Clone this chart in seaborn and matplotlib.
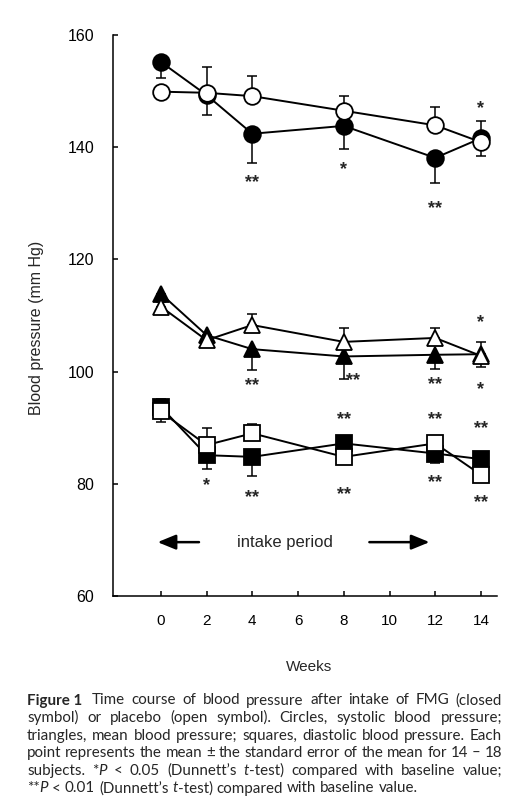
import matplotlib
matplotlib.use("Agg")
import matplotlib.pyplot as plt
import seaborn as sns
import pandas as pd
import numpy as np

# ---------------- data ----------------
weeks = [0, 2, 4, 8, 12, 14]
week_ticks = [0, 2, 4, 6, 8, 10, 12, 14]
bp_ticks = [60, 80, 100, 120, 140, 160]

# systolic (circles)
sys_fmg = [155.2, 149.3, 142.4, 143.8, 138.1, 141.6]
sys_fmg_se = [2.9, 3.6, 5.3, 4.2, 4.4, 3.2]
sys_plc = [149.9, 149.7, 149.1, 146.5, 143.9, 140.9]
sys_plc_se = [0.8, 4.6, 3.6, 2.7, 3.3, 3.8]

# mean (triangles)
mean_fmg = [113.9, 106.5, 104.0, 102.7, 103.0, 103.1]
mean_fmg_se = [0.8, 0.8, 3.7, 4.0, 2.5, 2.2]
mean_plc = [111.6, 105.6, 108.3, 105.3, 106.0, 102.8]
mean_plc_se = [0.8, 0.8, 2.0, 2.4, 1.8, 2.5]

# diastolic (squares)
dia_fmg = [93.7, 85.1, 84.8, 87.2, 85.4, 84.4]
dia_fmg_se = [2.6, 2.5, 3.4, 0.6, 1.7, 0.6]
dia_plc = [92.9, 86.9, 89.0, 84.8, 87.2, 81.6]
dia_plc_se = [2.3, 3.0, 1.7, 0.6, 0.6, 0.6]

# significance marks (week, value, text)
star_weeks = [4, 8, 12, 14, 4, 8.4, 12, 14, 14, 2, 4, 8, 8, 12, 12, 14, 14]
star_vals = [134.7, 137.0, 130.1, 147.9, 98.5, 99.5, 98.8, 109.8, 97.8,
             80.7, 78.6, 92.4, 79.1, 92.4, 81.3, 90.8, 77.6]
star_text = ["**", "*", "**", "*", "**", "**", "**", "*", "*",
             "*", "**", "**", "**", "**", "**", "**", "**"]

arrow_level = 69.6
caption_lines = [
    [[("Figure\u00a01\u00a0", "b")], [("Time", "n")], [("course", "n")], [("of", "n")],
     [("blood", "n")], [("pressure", "n")], [("after", "n")], [("intake", "n")],
     [("of", "n")], [("FMG", "n")], [("(closed", "n")]],
    [[("symbol)", "n")], [("or", "n")], [("placebo", "n")], [("(open", "n")],
     [("symbol).", "n")], [("Circles,", "n")], [("systolic", "n")], [("blood", "n")],
     [("pressure;", "n")]],
    [[("triangles,", "n")], [("mean", "n")], [("blood", "n")], [("pressure;", "n")],
     [("squares,", "n")], [("diastolic", "n")], [("blood", "n")], [("pressure.", "n")],
     [("Each", "n")]],
    [[("point", "n")], [("represents", "n")], [("the", "n")], [("mean", "n")],
     [("\u00b1", "n")], [("the", "n")], [("standard", "n")], [("error", "n")],
     [("of", "n")], [("the", "n")], [("mean", "n")], [("for", "n")], [("14", "n")],
     [("\u2013", "n")], [("18", "n")]],
    [[("subjects.", "n")], [("*", "n"), ("P", "i")], [("<", "n")], [("0.05", "n")],
     [("(Dunnett\u2019s", "n")], [("t", "i"), ("-test)", "n")], [("compared", "n")],
     [("with", "n")], [("baseline", "n")], [("value;", "n")]],
    [[("**", "n"), ("P", "i")], [("<", "n")], [("0.01", "n")], [("(Dunnett\u2019s", "n")],
     [("t", "i"), ("-test)", "n")], [("compared", "n")], [("with", "n")],
     [("baseline", "n")], [("value.", "n")]],
]

# ---------------- style ----------------
sns.set_style("ticks")
plt.rcParams["font.family"] = ["Liberation Sans", "DejaVu Sans"]

W, H = 525, 807
fig = plt.figure(figsize=(W / 100, H / 100), dpi=100)
ax = fig.add_axes([113 / W, 1 - 596 / H, 384 / W, 561 / H])

series = [
    (sys_fmg, sys_fmg_se, "o", True, 12),
    (mean_fmg, mean_fmg_se, "^", True, 12),
    (dia_fmg, dia_fmg_se, "s", True, 11.5),
    (sys_plc, sys_plc_se, "o", False, 12),
    (mean_plc, mean_plc_se, "^", False, 12),
    (dia_plc, dia_plc_se, "s", False, 11.5),
]

z = 2
for vals, se, mk, filled, ms in series:
    se = np.asarray(se)
    zeros = np.zeros_like(se)
    yerr = [se, zeros] if filled else [zeros, se]
    ax.errorbar(weeks, vals, yerr=yerr, fmt="none", ecolor="black",
                elinewidth=1.1, capsize=3.6, capthick=1.1, zorder=z)
    df = pd.DataFrame({"week": weeks, "bp": vals})
    sns.lineplot(data=df, x="week", y="bp", ax=ax, color="black", lw=1.4,
                 marker=mk, markersize=ms,
                 markerfacecolor="black" if filled else "white",
                 markeredgecolor="black", markeredgewidth=1.3,
                 estimator=None, sort=False, legend=False, zorder=z + 1)
    z += 2

STAR_FS = 13
for wk, v, t in zip(star_weeks, star_vals, star_text):
    ax.annotate(t, xy=(wk, v), xytext=(0, -0.57 * STAR_FS), textcoords="offset points",
                ha="center", va="baseline", fontsize=STAR_FS, fontweight="bold", zorder=20)

# intake period arrows
arrow_kw = dict(arrowstyle="-|>,head_length=1.1,head_width=0.45", lw=1.8,
                color="black", shrinkA=0, shrinkB=0, mutation_scale=10)
ax.annotate("", xy=(-0.14, arrow_level), xytext=(1.67, arrow_level), arrowprops=arrow_kw)
ax.annotate("", xy=(11.75, arrow_level), xytext=(9.12, arrow_level), arrowprops=arrow_kw)
ax.text(5.44, arrow_level, "intake period", ha="center", va="center", fontsize=12)

ax.set_xlim(-2.09, 14.7)
ax.set_ylim(60, 160)
ax.set_xticks(week_ticks)
ax.set_yticks(bp_ticks)
ax.set_xlabel("")
ax.set_ylabel("")
ax.tick_params(direction="in", length=3.6, width=1.1, labelsize=11.5, colors="black")
ax.tick_params(axis="y", pad=13.5)
ax.tick_params(axis="x", pad=13, labelsize=11)
sns.despine(ax=ax, top=True, right=True)
for s in ("left", "bottom"):
    ax.spines[s].set_linewidth(1.1)
    ax.spines[s].set_color("black")

fig.text(309 / W, 1 - 666.7 / H, "Weeks", ha="center", va="center", fontsize=11)
fig.text(36.5 / W, 1 - 327.5 / H, "Blood pressure (mm Hg)", ha="center", va="center",
         rotation=90, fontsize=11.5)

# ---------------- caption (justified) ----------------
renderer = fig.canvas.get_renderer()
CAP_FONT = ["Lato", "DejaVu Sans"]
STY = {"n": ("normal", "normal"), "b": ("bold", "normal"), "i": ("normal", "italic")}


def width(text, fs, key):
    wt, st = STY[key]
    t1 = fig.text(0, 0, "|" + text + "|", fontsize=fs, family=CAP_FONT, weight=wt, style=st)
    t2 = fig.text(0, 0, "||", fontsize=fs, family=CAP_FONT, weight=wt, style=st)
    w = t1.get_window_extent(renderer).width - t2.get_window_extent(renderer).width
    t1.remove()
    t2.remove()
    return w


def space_w(fs):
    return width(" ", fs, "n")


def token_w(tok, fs):
    return sum(width(txt, fs, k) for txt, k in tok)


fs0 = 10.0
last = caption_lines[-1]
nat = sum(token_w(t, fs0) for t in last) + (len(last) - 1) * space_w(fs0)
cap_fs = fs0 * 390.0 / nat

x_left, x_right = 27.0, 502.0
base0, dy = 704.5, 17.6
for li, line in enumerate(caption_lines):
    widths = [token_w(t, cap_fs) for t in line]
    if li < len(caption_lines) - 1:
        gap = (x_right - x_left - sum(widths)) / (len(line) - 1)
    else:
        gap = space_w(cap_fs)
    x = x_left
    ybase = 1 - (base0 + li * dy) / H
    for tok, tw in zip(line, widths):
        xx = x
        for txt, k in tok:
            wt, st = STY[k]
            fig.text(xx / W, ybase, txt, fontsize=cap_fs, family=CAP_FONT, weight=wt,
                     style=st, ha="left", va="baseline")
            xx += width(txt, cap_fs, k)
        x += tw + gap

fig.savefig("out.png", dpi=100)
